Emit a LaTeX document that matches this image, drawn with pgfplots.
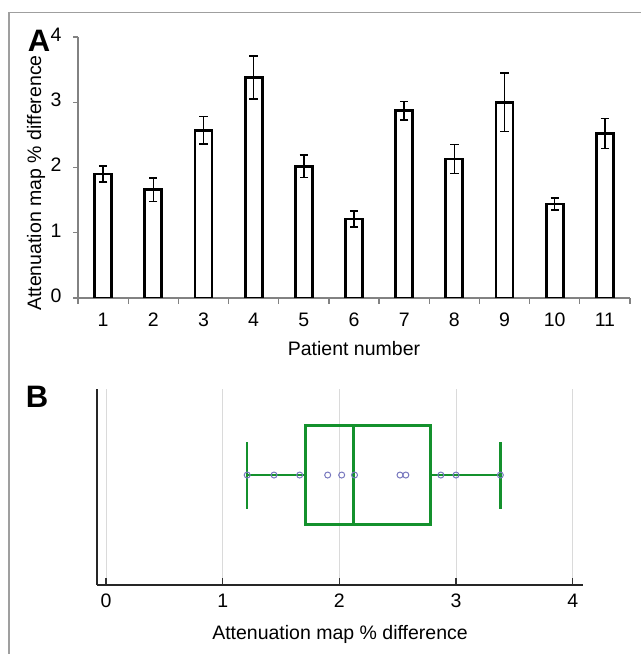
\documentclass[border=0pt]{standalone}
\usepackage{fontspec}
\setmainfont{Liberation Sans}
\usepackage{pgfplots}
\pgfplotsset{compat=1.18}
\usepgfplotslibrary{statistics}
\usepackage{pgfplotstable}

\definecolor{boxgreen}{RGB}{20,145,45}
\definecolor{ptblue}{RGB}{120,120,190}
\definecolor{axgray}{RGB}{130,130,130}
\definecolor{gridgray}{RGB}{218,218,218}

% patient, mean % difference, error
\pgfplotstableread{
x y e
1 1.90 0.12
2 1.66 0.18
3 2.57 0.21
4 3.38 0.33
5 2.02 0.17
6 1.21 0.12
7 2.87 0.14
8 2.13 0.22
9 3.00 0.45
10 1.44 0.09
11 2.52 0.23
}\patients

\begin{document}
\begin{tikzpicture}[font=\fontsize{19.5}{22}\selectfont]
\useasboundingbox (0pt,0pt) rectangle (641pt,654pt);
\draw[gray!75, line width=1.3pt] (9pt,0pt) -- (9pt,641.5pt) -- (641pt,641.5pt);

% panel A
\begin{axis}[
  at={(78pt,356pt)}, anchor=south west,
  scale only axis, width=552pt, height=261pt,
  xmin=0.5, xmax=11.5, ymin=0, ymax=4,
  ybar, bar width=17pt,
  axis lines*=left,
  axis line style={axgray, line width=1.2pt},
  xtick={1,...,11},
  minor xtick={0.5,1.5,...,11.5},
  major x tick style={draw=none},
  ytick={0,1,2,3,4},
  tick align=outside,
  major tick length=5pt, minor tick length=6pt,
  tick style={axgray, line width=1.2pt},
  typeset ticklabels with strut,
  xticklabel style={yshift=-5pt},
  yticklabel style={xshift=-8pt},
  /pgf/number format/assume math mode=true,
  font=\fontsize{19.5}{22}\selectfont,
]
\addplot[draw=black, fill=white, line width=2.8pt,
  error bars/.cd, y dir=both, y explicit,
  error bar style={line width=1.5pt, black},
  error mark options={rotate=90, mark size=4.2pt, line width=1.5pt, black}]
  table[x=x, y=y, y error=e] {\patients};
\end{axis}

% panel B
\begin{axis}[
  at={(96.7pt,69pt)}, anchor=south west,
  scale only axis, width=486pt, height=196pt,
  xmin=-0.08, xmax=4.086, ymin=0, ymax=1,
  axis lines*=left,
  axis line style={black!85, line width=2pt},
  xtick={0,1,2,3,4}, ytick=\empty,
  xmajorgrids, grid style={gridgray, line width=1pt},
  tick align=inside, major tick length=7pt,
  tick style={black!80, line width=1.2pt},
  typeset ticklabels with strut,
  xticklabel style={yshift=-4pt},
  boxplot/draw direction=x,
  /pgf/number format/assume math mode=true,
  font=\fontsize{19.5}{22}\selectfont,
]
\addplot[boxgreen, line width=2.4pt, solid,
  boxplot prepared={lower whisker=1.21, lower quartile=1.71,
    median=2.12, upper quartile=2.78, upper whisker=3.38,
    draw position=0.561, box extend=0.505, whisker extend=0.342}]
  coordinates {};
\addplot[only marks, mark=o, mark size=3pt, ptblue,
  mark options={fill=white, line width=1pt}]
  table[x=y, y expr=0.561] {\patients};
\end{axis}

\node[font=\fontsize{31}{34}\selectfont\bfseries] at (39pt,613pt) {A};
\node[font=\fontsize{31}{34}\selectfont\bfseries] at (37pt,257pt) {B};
\node[rotate=90] at (36pt,471pt) {Attenuation map \% difference};
\node at (354pt,305pt) {Patient number};
\node at (340pt,20pt) {Attenuation map \% difference};
\end{tikzpicture}
\end{document}
